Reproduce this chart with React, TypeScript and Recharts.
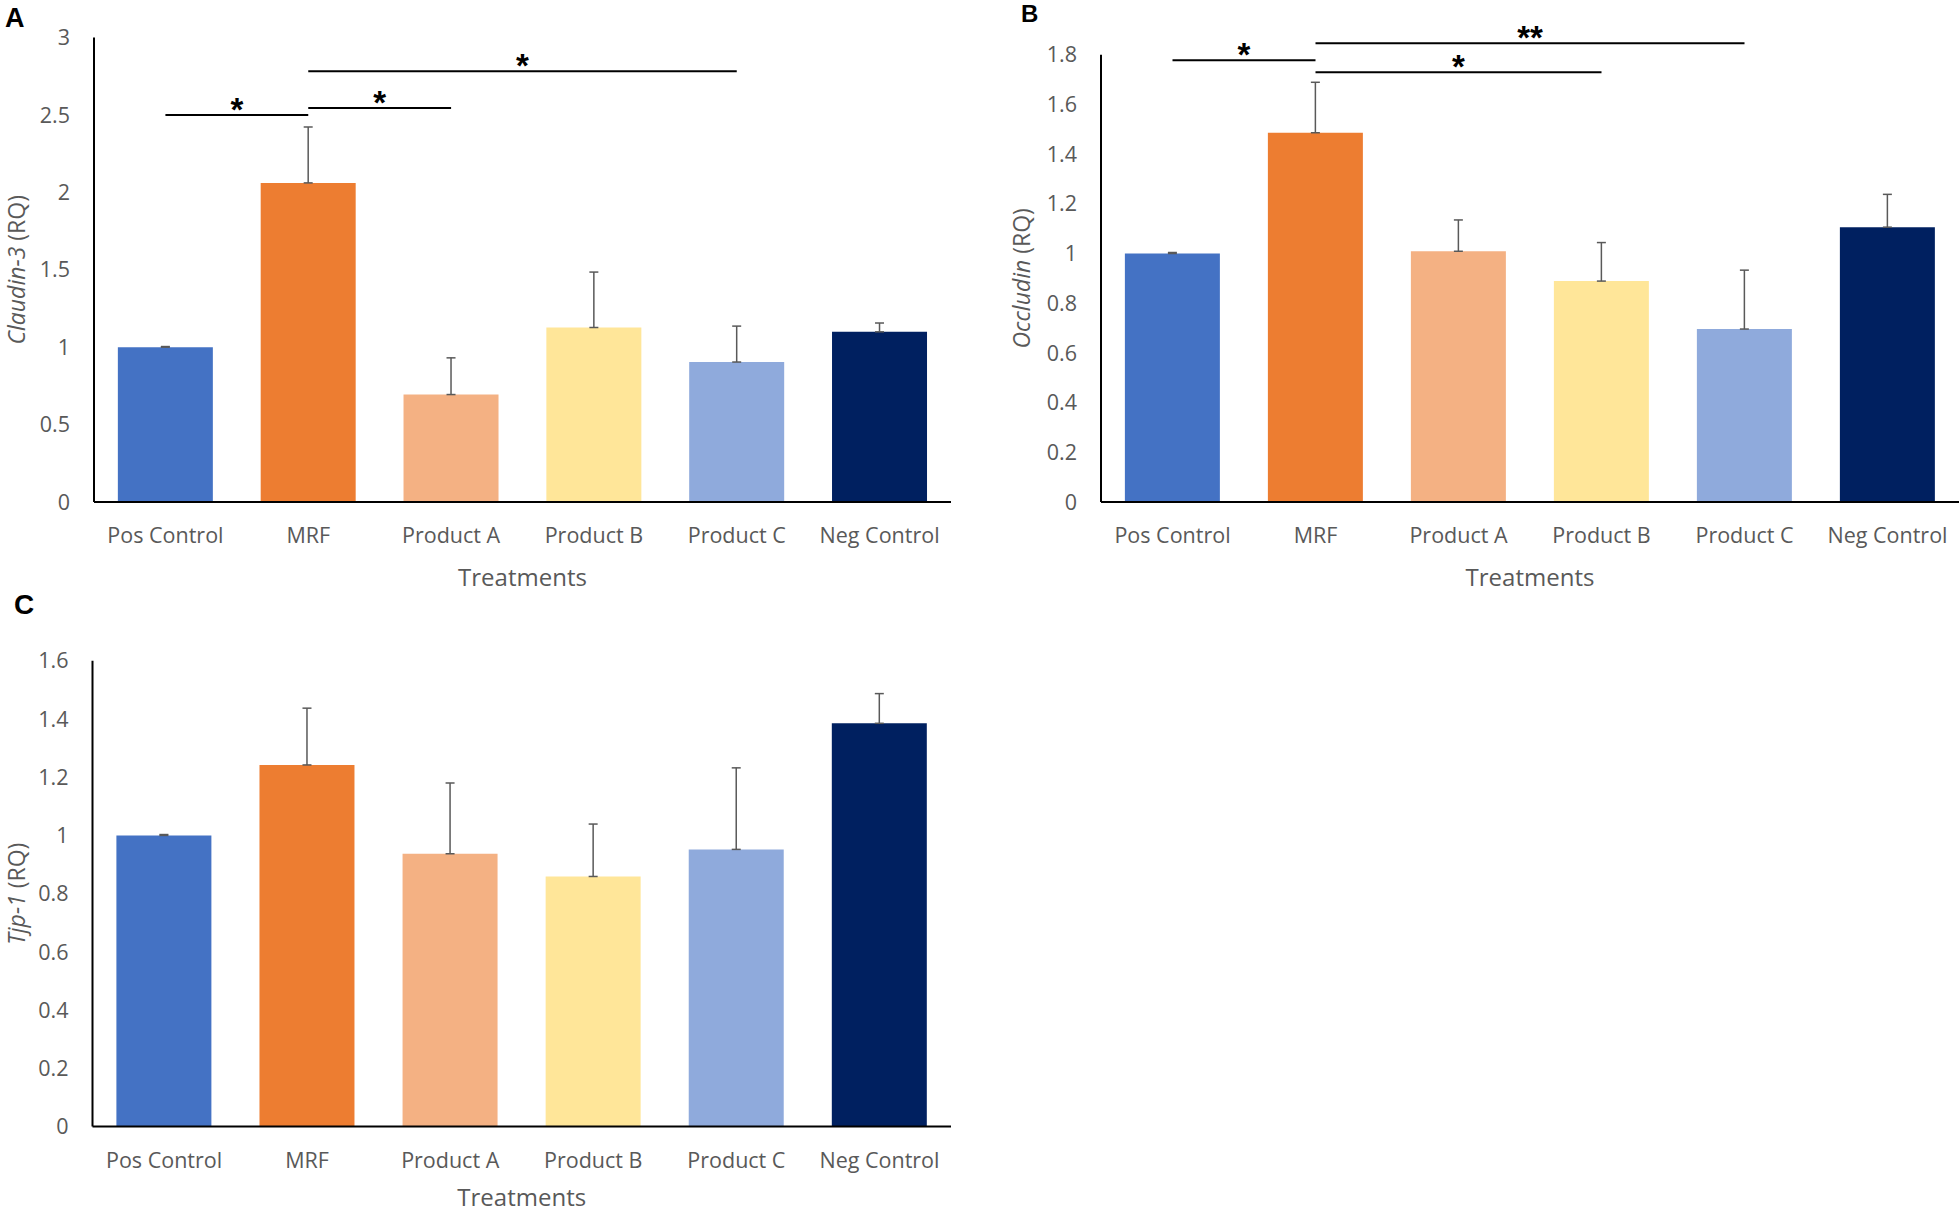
import React from 'react';
import { BarChart, Bar, XAxis, YAxis, Cell, ErrorBar, ReferenceLine } from 'recharts';

// ---------- data ----------
const categories = ['Pos Control', 'MRF', 'Product A', 'Product B', 'Product C', 'Neg Control'];
const barColors = ['#4472C4', '#ED7D31', '#F4B183', '#FFE699', '#8FAADC', '#002060'];

const claudinValues = [1.0, 2.061, 0.694, 1.127, 0.904, 1.099];
const claudinErrors = [0.004, 0.361, 0.237, 0.358, 0.232, 0.057];
const occludinValues = [1.0, 1.486, 1.009, 0.889, 0.696, 1.106];
const occludinErrors = [0.004, 0.203, 0.126, 0.155, 0.237, 0.132];
const tjpValues = [1.0, 1.242, 0.937, 0.859, 0.952, 1.385];
const tjpErrors = [0.003, 0.195, 0.243, 0.18, 0.28, 0.102];

const claudinTicks = [0, 0.5, 1, 1.5, 2, 2.5, 3];
const occludinTicks = [0, 0.2, 0.4, 0.6, 0.8, 1, 1.2, 1.4, 1.6, 1.8];
const tjpTicks = [0, 0.2, 0.4, 0.6, 0.8, 1, 1.2, 1.4, 1.6];

const claudinSig = [
  { from: 'Pos Control', to: 'MRF', y: 2.5, mark: '*' },
  { from: 'MRF', to: 'Product A', y: 2.545, mark: '*' },
  { from: 'MRF', to: 'Product C', y: 2.782, mark: '*' },
];
const occludinSig = [
  { from: 'Pos Control', to: 'MRF', y: 1.778, mark: '*' },
  { from: 'MRF', to: 'Product C', y: 1.846, mark: '**' },
  { from: 'MRF', to: 'Product B', y: 1.729, mark: '*' },
];
const noSig: { from: string; to: string; y: number; mark: string }[] = [];

const buildRows = (values: number[], errors: number[]) =>
  categories.map((name, i) => ({ name, value: values[i], err: [0, errors[i]] }));

// ---------- styles ----------
const TEXT = '#595959';
const FONT = 'Open Sans, Lato, sans-serif';

const makeYLabel = (italic: string, rest: string, dx: number) => (props: any) => {
  const vb = props && props.viewBox ? props.viewBox : {};
  const cx = (vb.x ?? 0) + dx;
  const cy = (vb.y ?? 0) + (vb.height ?? 0) / 2;
  return (
    <text
      x={cx}
      y={cy}
      transform={`rotate(-90, ${cx}, ${cy})`}
      textAnchor="middle"
      fill={TEXT}
      fontSize={23}
      fontFamily={FONT}
    >
      <tspan fontStyle="italic">{italic}</tspan>
      <tspan>{rest}</tspan>
    </text>
  );
};

const makeSigLabel = (mark: string) => (props: any) => {
  const vb = props && props.viewBox ? props.viewBox : { x: 0, y: 0, width: 0 };
  return (
    <text
      x={vb.x + vb.width / 2}
      y={vb.y + 6}
      textAnchor="middle"
      fill="#000"
      fontSize={33}
      fontWeight="bold"
      fontFamily="Liberation Sans, Arial, sans-serif"
    >
      {mark}
    </text>
  );
};

type PanelProps = {
  values: number[];
  errors: number[];
  ticks: number[];
  max: number;
  sig: { from: string; to: string; y: number; mark: string }[];
  yItalic: string;
  yRest: string;
  yLabelDx: number;
  width: number;
  height: number;
  margin: { top: number; right: number; left: number; bottom: number };
  yAxisWidth: number;
  xAxisHeight: number;
  titleOffset: number;
};

function Panel(p: PanelProps) {
  const data = buildRows(p.values, p.errors);
  return (
    <BarChart width={p.width} height={p.height} data={data} margin={p.margin} barCategoryGap="16.7%">
      <XAxis
        dataKey="name"
        interval={0}
        tickLine={false}
        axisLine={{ stroke: '#000', strokeWidth: 2 }}
        tick={{ fill: TEXT, fontSize: 21.5, fontFamily: FONT }}
        tickMargin={20}
        height={p.xAxisHeight}
        label={{
          value: 'Treatments',
          position: 'insideBottom',
          offset: p.titleOffset,
          fill: TEXT,
          fontSize: 24,
          fontFamily: FONT,
        }}
      />
      <YAxis
        type="number"
        domain={[0, p.max]}
        ticks={p.ticks}
        interval={0}
        tickLine={false}
        axisLine={{ stroke: '#000', strokeWidth: 2 }}
        tick={{ fill: TEXT, fontSize: 21.5, fontFamily: FONT }}
        tickMargin={18}
        width={p.yAxisWidth}
        label={makeYLabel(p.yItalic, p.yRest, p.yLabelDx)}
      />
      <Bar dataKey="value" isAnimationActive={false}>
        {data.map((d, i) => (
          <Cell key={d.name} fill={barColors[i]} />
        ))}
        <ErrorBar dataKey="err" direction="y" width={4.5} stroke={TEXT} strokeWidth={1.5} />
      </Bar>
      {p.sig.map((s, i) => (
        <ReferenceLine
          key={i}
          segment={[
            { x: s.from, y: s.y },
            { x: s.to, y: s.y },
          ]}
          stroke="#000"
          strokeWidth={2}
          ifOverflow="visible"
          label={makeSigLabel(s.mark)}
        />
      ))}
    </BarChart>
  );
}

export default function App() {
  return (
    <div style={{ position: 'absolute', left: 0, top: 0, width: 1959, height: 1214, background: '#fff', overflow: 'hidden' }}>
      <div style={{ position: 'absolute', left: 0, top: 0 }}>
        <Panel
          values={claudinValues}
          errors={claudinErrors}
          ticks={claudinTicks}
          max={3}
          sig={claudinSig}
          yItalic="Claudin-3"
          yRest=" (RQ)"
          yLabelDx={25}
          width={980}
          height={600}
          margin={{ top: 37.5, right: 29, left: 0, bottom: 0 }}
          yAxisWidth={94}
          xAxisHeight={98}
          titleOffset={14}
        />
      </div>
      <div style={{ position: 'absolute', left: 980, top: 0 }}>
        <Panel
          values={occludinValues}
          errors={occludinErrors}
          ticks={occludinTicks}
          max={1.8}
          sig={occludinSig}
          yItalic="Occludin"
          yRest=" (RQ)"
          yLabelDx={50}
          width={979}
          height={600}
          margin={{ top: 54.7, right: 0, left: 0, bottom: 0 }}
          yAxisWidth={121}
          xAxisHeight={98}
          titleOffset={14}
        />
      </div>
      <div style={{ position: 'absolute', left: 0, top: 600 }}>
        <Panel
          values={tjpValues}
          errors={tjpErrors}
          ticks={tjpTicks}
          max={1.6}
          sig={noSig}
          yItalic="Tjp-1"
          yRest=" (RQ)"
          yLabelDx={25}
          width={980}
          height={614}
          margin={{ top: 60.7, right: 29, left: 0, bottom: 0 }}
          yAxisWidth={92.5}
          xAxisHeight={87.4}
          titleOffset={8}
        />
      </div>
      <svg width={1959} height={1214} style={{ position: 'absolute', left: 0, top: 0, pointerEvents: 'none' }}>
        <text x={5} y={27} fontSize={27} fontWeight="bold" fontFamily="Liberation Sans, Arial, sans-serif" fill="#000">A</text>
        <text x={1021} y={22} fontSize={24} fontWeight="bold" fontFamily="Liberation Sans, Arial, sans-serif" fill="#000">B</text>
        <text x={14} y={614} fontSize={28} fontWeight="bold" fontFamily="Liberation Sans, Arial, sans-serif" fill="#000">C</text>
      </svg>
    </div>
  );
}
